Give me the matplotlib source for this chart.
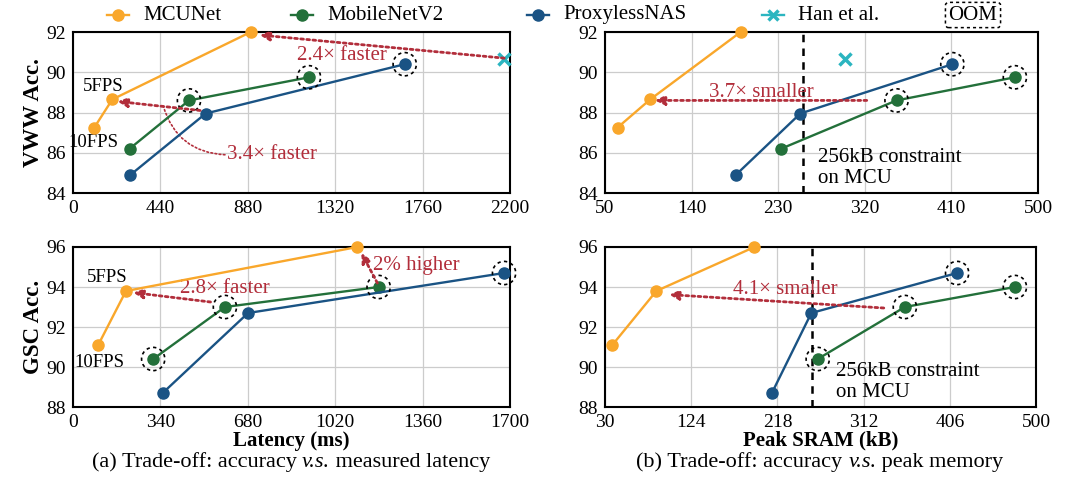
import matplotlib
matplotlib.use('Agg')
import matplotlib.pyplot as plt
from matplotlib.lines import Line2D

plt.rcParams['font.family'] = ['Liberation Serif', 'DejaVu Serif']
plt.rcParams['font.size'] = 14

# colours
c_mcu = '#F9A72B'
c_mbv2 = '#23703A'
c_proxy = '#1A5384'
c_han = '#2BB5C0'
c_red = '#B22E3B'

# VWW
vww_lat_mcunet = [107, 198, 895]
vww_lat_mbv2 = [285, 584, 1188]
vww_lat_proxyless = [289, 668, 1670]
vww_sram_mcunet = [63, 97, 191]
vww_sram_mbv2 = [233, 353, 476]
vww_sram_proxyless = [186, 253, 411]
vww_acc_mcunet = [87.25, 88.65, 92.0]
vww_acc_mbv2 = [86.2, 88.6, 89.75]
vww_acc_proxyless = [84.9, 87.95, 90.4]
han_lat = 2171
han_sram = 299
han_acc = 90.65

# GSC
gsc_lat_mcunet = [98, 206, 1106]
gsc_lat_mbv2 = [312, 591, 1189]
gsc_lat_proxyless = [349, 681, 1677]
gsc_sram_mcunet = [38, 86, 193]
gsc_sram_mbv2 = [262, 357, 477]
gsc_sram_proxyless = [212, 255, 414]
gsc_acc_mcunet = [91.1, 93.8, 96.0]
gsc_acc_mbv2 = [90.4, 93.0, 94.0]
gsc_acc_proxyless = [88.7, 92.7, 94.7]

# out-of-memory points (index into series)
vww_oom_mbv2 = [1, 2]
vww_oom_proxyless = [2]
gsc_oom_mbv2 = [0, 1, 2]
gsc_oom_proxyless = [2]

vww_yticks = [84, 86, 88, 90, 92]
gsc_yticks = [88, 90, 92, 94, 96]
lat_ticks_vww = [0, 440, 880, 1320, 1760, 2200]
lat_ticks_gsc = [0, 340, 680, 1020, 1360, 1700]
sram_ticks_vww = [50, 140, 230, 320, 410, 500]
sram_ticks_gsc = [30, 124, 218, 312, 406, 500]

fig = plt.figure(figsize=(10.68, 4.86), dpi=100)
W, H = 1068, 486


def add_ax(x0, x1, y0, y1):
    return fig.add_axes([x0 / W, 1 - y1 / H, (x1 - x0) / W, (y1 - y0) / H])


ax_tl = add_ax(73, 510, 32, 193)
ax_tr = add_ax(605, 1038, 32, 193)
ax_bl = add_ax(73, 510, 247, 407)
ax_br = add_ax(605, 1036, 247, 407)


def series(ax, x, y, color, oom):
    ax.plot(x, y, '-o', color=color, lw=1.7, ms=8, clip_on=False, zorder=4)
    if oom:
        ax.scatter([x[i] for i in oom], [y[i] for i in oom], s=280,
                   facecolors='none', edgecolors='k', linestyles=(0, (2, 2)),
                   linewidths=1.2, clip_on=False, zorder=5)


def style(ax, xticks, yticks):
    ax.set_xlim(xticks[0], xticks[-1])
    ax.set_ylim(yticks[0], yticks[-1])
    ax.set_xticks(xticks)
    ax.set_yticks(yticks)
    ax.grid(color='#cccccc', lw=0.9)
    ax.set_axisbelow(True)
    ax.tick_params(length=0, labelsize=14, pad=5)
    for s in ax.spines.values():
        s.set_linewidth(1.5)


def arrow(ax, start, end):
    ax.annotate('', xy=end, xytext=start,
                arrowprops=dict(arrowstyle='-|>', color=c_red, lw=2,
                                linestyle=(0, (1, 1.2)), mutation_scale=14,
                                shrinkA=0, shrinkB=0), zorder=6)


# top-left: VWW latency
ax = ax_tl
series(ax, vww_lat_mcunet, vww_acc_mcunet, c_mcu, [])
series(ax, vww_lat_mbv2, vww_acc_mbv2, c_mbv2, vww_oom_mbv2)
series(ax, vww_lat_proxyless, vww_acc_proxyless, c_proxy, vww_oom_proxyless)
ax.plot([han_lat], [han_acc], 'x', color=c_han, ms=9, mew=2.5, clip_on=False, zorder=6)
style(ax, lat_ticks_vww, vww_yticks)
ax.set_ylabel('VWW Acc.', fontsize=16.5, fontweight='bold', labelpad=2)
arrow(ax, (han_lat, han_acc + 0.05), (940, 91.85))
ax.text(1127, 90.85, '2.4× faster', color=c_red, fontsize=15, va='center')
arrow(ax, (640, 88.1), (225, 88.55))
ax.annotate('', xy=(455, 88.3), xytext=(765, 85.9),
            arrowprops=dict(arrowstyle='-', color=c_red, lw=1.2,
                            linestyle=(0, (1, 1.5)), connectionstyle='arc3,rad=-0.35',
                            shrinkA=0, shrinkB=0))
ax.text(775, 85.9, '3.4× faster', color=c_red, fontsize=15, va='center')
ax.text(50, 89.3, '5FPS', fontsize=13.5, va='center')
ax.text(-25, 86.5, '10FPS', fontsize=13.5, va='center')

# top-right: VWW SRAM
ax = ax_tr
series(ax, vww_sram_mcunet, vww_acc_mcunet, c_mcu, [])
series(ax, vww_sram_mbv2, vww_acc_mbv2, c_mbv2, vww_oom_mbv2)
series(ax, vww_sram_proxyless, vww_acc_proxyless, c_proxy, vww_oom_proxyless)
ax.plot([han_sram], [han_acc], 'x', color=c_han, ms=9, mew=2.5, zorder=6)
style(ax, sram_ticks_vww, vww_yticks)
ax.axvline(256, color='k', ls=(0, (3, 2.5)), lw=1.8, zorder=3)
arrow(ax, (322, 88.6), (102, 88.6))
ax.text(213, 89.0, '3.7× smaller', color=c_red, fontsize=15, ha='center', va='center')
ax.text(271, 85.25, '256kB constraint\non MCU', fontsize=15, va='center', linespacing=1.1)

# bottom-left: GSC latency
ax = ax_bl
series(ax, gsc_lat_mcunet, gsc_acc_mcunet, c_mcu, [])
series(ax, gsc_lat_mbv2, gsc_acc_mbv2, c_mbv2, gsc_oom_mbv2)
series(ax, gsc_lat_proxyless, gsc_acc_proxyless, c_proxy, gsc_oom_proxyless)
style(ax, lat_ticks_gsc, gsc_yticks)
ax.set_ylabel('GSC Acc.', fontsize=16.5, fontweight='bold', labelpad=2)
ax.set_xlabel('Latency (ms)', fontsize=15, fontweight='bold', labelpad=0)
arrow(ax, (535, 93.25), (235, 93.72))
ax.text(416, 93.9, '2.8× faster', color=c_red, fontsize=15, va='center')
arrow(ax, (1184, 94.2), (1122, 95.7))
ax.text(1166, 95.1, '2% higher', color=c_red, fontsize=15, va='center')
ax.text(55, 94.5, '5FPS', fontsize=13.5, va='center')
ax.text(5, 90.25, '10FPS', fontsize=13.5, va='center')

# bottom-right: GSC SRAM
ax = ax_br
series(ax, gsc_sram_mcunet, gsc_acc_mcunet, c_mcu, [])
series(ax, gsc_sram_mbv2, gsc_acc_mbv2, c_mbv2, gsc_oom_mbv2)
series(ax, gsc_sram_proxyless, gsc_acc_proxyless, c_proxy, gsc_oom_proxyless)
style(ax, sram_ticks_gsc, gsc_yticks)
ax.axvline(256, color='k', ls=(0, (3, 2.5)), lw=1.8, zorder=3)
ax.set_xlabel('Peak SRAM (kB)', fontsize=15, fontweight='bold', labelpad=0)
arrow(ax, (334, 92.95), (100, 93.62))
ax.text(170, 93.87, '4.1× smaller', color=c_red, fontsize=15, va='center')
ax.text(282, 89.25, '256kB constraint\non MCU', fontsize=15, va='center', linespacing=1.1)


# captions: plain / italic / plain pieces chained, then centred
def caption(cx_px, parts, size=16):
    first = fig.text(0, 1 - 472 / H, parts[0][0], fontstyle=parts[0][1],
                     ha='left', va='bottom', fontsize=size)
    pieces = [first]
    for s, st in parts[1:]:
        pieces.append(ax_bl.annotate(s, xy=(1, 0), xycoords=pieces[-1], ha='left',
                                     va='bottom', fontstyle=st, fontsize=size,
                                     annotation_clip=False))
    r = fig.canvas.get_renderer()
    width = sum(p.get_window_extent(r).width for p in pieces)
    first.set_x((cx_px - width / 2) / W)


caption(291, [('(a) Trade-off: accuracy ', 'normal'), ('v.s.', 'italic'),
              (' measured latency', 'normal')])
caption(820, [('(b) Trade-off: accuracy ', 'normal'), ('v.s.', 'italic'),
              (' peak memory', 'normal')])

# legend, placed item by item
legend_x = [118, 302, 538, 773]
legend_labels = ['MCUNet', 'MobileNetV2', 'ProxylessNAS', 'Han et al.']
legend_colors = [c_mcu, c_mbv2, c_proxy, c_han]
legend_markers = ['o', 'o', 'o', 'x']
ly = 1 - 15 / H
for lx, lab, col, mk in zip(legend_x, legend_labels, legend_colors, legend_markers):
    fig.add_artist(Line2D([(lx - 11) / W, (lx + 11) / W], [ly, ly], color=col, lw=1.7))
    fig.add_artist(Line2D([lx / W], [ly], color=col, marker=mk, ms=8 if mk == 'o' else 7,
                          mew=2.5 if mk == 'x' else 1))
    fig.text((lx + 25) / W, ly, lab, ha='left', va='center', fontsize=15)
fig.text(973 / W, ly, 'OOM', ha='center', va='center', fontsize=15,
         bbox=dict(boxstyle='round,pad=0.15', fc='none', ec='k', ls=(0, (2, 2)), lw=1.1))

fig.savefig('out.png', dpi=100)
